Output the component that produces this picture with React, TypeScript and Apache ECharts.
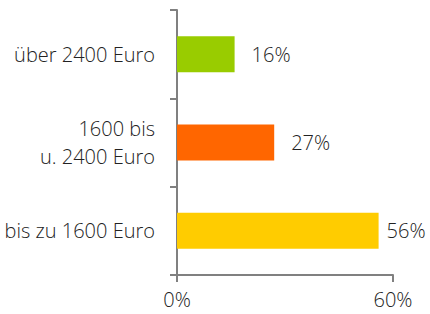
import React, { useEffect, useRef } from "react";
import * as echarts from "echarts";

const categories = ["bis zu 1600 Euro", "1600 bis\nu. 2400 Euro", "über 2400 Euro"];
const values = [56, 27, 16];
const colors = ["#FFCC00", "#FF6600", "#99CC00"];
const labelDistances = [8, 17, 17];
const xTicks = [0, 60];

export default function App() {
  const ref = useRef<HTMLDivElement>(null);
  useEffect(() => {
    const chart = echarts.init(ref.current!, null, { renderer: "svg" });
    const font = "'Open Sans', sans-serif";
    chart.setOption({
      animation: false,
      grid: { left: 177, right: 37, top: 10, bottom: 39, containLabel: false },
      xAxis: {
        type: "value",
        min: xTicks[0],
        max: xTicks[1],
        interval: 60,
        axisLine: { show: true, lineStyle: { color: "#808080", width: 2 } },
        axisTick: { show: true, length: 7, lineStyle: { color: "#808080", width: 2 } },
        splitLine: { show: false },
        axisLabel: {
          formatter: "{value}%",
          color: "#222",
          fontSize: 20,
          fontWeight: 300,
          fontFamily: font,
          margin: 14,
        },
      },
      yAxis: {
        type: "category",
        data: categories,
        axisLine: { show: true, lineStyle: { color: "#808080", width: 2 } },
        axisTick: { show: true, length: 7, lineStyle: { color: "#808080", width: 2 } },
        axisLabel: {
          color: "#222",
          fontSize: 20,
          fontWeight: 300,
          fontFamily: font,
          margin: 22,
          lineHeight: 28,
          align: "right",
        },
      },
      series: [
        {
          type: "bar",
          barWidth: 36,
          data: values.map((v, i) => ({
            value: v,
            itemStyle: { color: colors[i] },
            label: { distance: labelDistances[i] },
          })),
          label: {
            show: true,
            position: "right",
            formatter: "{c}%",
            color: "#222",
            fontSize: 20,
            fontWeight: 300,
            fontFamily: font,
          },
        },
      ],
    });
    return () => chart.dispose();
  }, []);
  return <div ref={ref} style={{ width: 430, height: 314, position: "absolute", left: 0, top: 0 }} />;
}
